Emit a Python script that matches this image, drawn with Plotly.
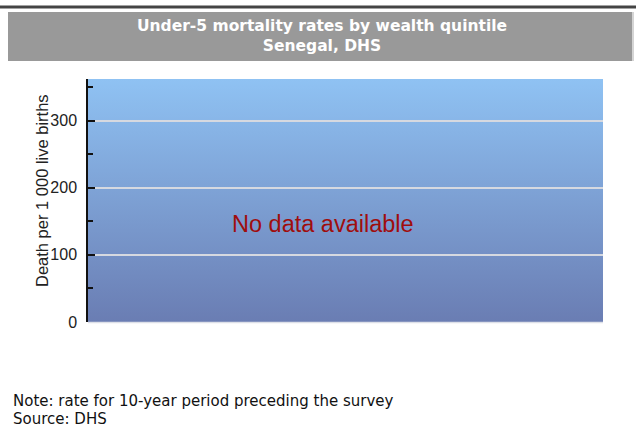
import base64
import plotly.graph_objects as go

# ---- data ----
quintiles = ["Lowest", "Second", "Middle", "Fourth", "Highest"]
rates = []  # no data available
y_tick_vals = [0, 100, 200, 300]
y_minor_vals = [50, 150, 250, 350]
y_range = [0, 362]

title_lines = ["Under-5 mortality rates by wealth quintile", "Senegal, DHS"]
y_title = "Death per 1 000 live births"
no_data_text = "No data available"
note_lines = ["Note: rate for 10-year period preceding the survey", "Source: DHS"]

W, H = 636, 428
L, R, T, B = 88, 603, 79, 322


def px(x):
    return (x - L) / (R - L)


def py(y):
    return (B - y) / (B - T)


svg = (
    '<svg xmlns="http://www.w3.org/2000/svg" width="100" height="100" preserveAspectRatio="none">'
    '<defs><linearGradient id="g" x1="0" y1="0" x2="0" y2="1">'
    '<stop offset="0" stop-color="#8fc2f3"/><stop offset="1" stop-color="#6a7db3"/>'
    '</linearGradient></defs><rect width="100" height="100" fill="url(#g)"/></svg>'
)
svg_uri = "data:image/svg+xml;base64," + base64.b64encode(svg.encode()).decode()

fig = go.Figure()
fig.add_trace(go.Bar(x=quintiles[:len(rates)], y=rates, showlegend=False))

fig.update_layout(
    width=W,
    height=H,
    margin=dict(l=L, r=W - R, t=T, b=H - B, pad=0),
    paper_bgcolor="white",
    plot_bgcolor="#7e9fd3",
    showlegend=False,
    font=dict(family="Liberation Sans, Arial, sans-serif", size=15, color="#222"),
    xaxis=dict(
        type="category",
        categoryarray=quintiles,
        range=[-0.5, 4.5],
        showticklabels=False,
        showgrid=False,
        zeroline=False,
        showline=False,
        ticks="",
        fixedrange=True,
    ),
    yaxis=dict(
        range=y_range,
        tickvals=y_tick_vals,
        ticktext=[str(v) for v in y_tick_vals],
        ticks="inside",
        ticklen=7,
        tickwidth=1.5,
        tickcolor="#111",
        showline=True,
        linecolor="#111",
        linewidth=1.5,
        showgrid=True,
        gridcolor="#d6d9e0",
        gridwidth=1.5,
        zeroline=False,
        ticklabelstandoff=6,
        tickfont=dict(family="Liberation Sans, Arial, sans-serif", size=16, color="#222"),
        minor=dict(tickvals=y_minor_vals, ticks="inside", ticklen=5, tickwidth=1.5,
                   tickcolor="#111", showgrid=False),
        fixedrange=True,
    ),
    images=[dict(source=svg_uri, xref="x domain", yref="y domain", x=0, y=1,
                 sizex=1, sizey=1, sizing="stretch", layer="below",
                 xanchor="left", yanchor="top")],
)

shapes = [
    # dark top rule
    dict(type="rect", xref="paper", yref="paper", x0=px(0), x1=px(636), y0=py(5.5), y1=py(8.5),
         fillcolor="#444444", line=dict(width=0), layer="above"),
    # title box
    dict(type="rect", xref="paper", yref="paper", x0=px(8), x1=px(632), y0=py(12), y1=py(61),
         fillcolor="#999999", line=dict(width=0), layer="above"),
    dict(type="line", xref="paper", yref="paper", x0=px(633), x1=px(633), y0=py(12), y1=py(61),
         line=dict(color="#d4d4d4", width=2), layer="above"),
    # light line along the bottom of the plot area
    dict(type="line", xref="paper", yref="paper", x0=0, x1=1, y0=py(322.5), y1=py(322.5),
         line=dict(color="#dde0e8", width=1.5), layer="above"),
]
fig.update_layout(shapes=shapes)

annotations = [
    dict(text="<b>" + title_lines[0] + "</b><br><b>" + title_lines[1] + "</b>",
         xref="paper", yref="paper", x=px(322), y=py(36.5), xanchor="center", yanchor="middle",
         showarrow=False, align="center",
         font=dict(family="DejaVu Sans, Verdana, sans-serif", size=15.5, color="white")),
    dict(text=y_title, xref="paper", yref="paper", x=px(42), y=py(191), textangle=-90,
         xanchor="center", yanchor="middle", showarrow=False,
         font=dict(family="Liberation Sans, Arial, sans-serif", size=16.5, color="#222")),
    dict(text=no_data_text, xref="paper", yref="paper", x=px(322.7), y=py(224),
         xanchor="center", yanchor="middle", showarrow=False,
         font=dict(family="Liberation Sans, Arial, sans-serif", size=23.5, color="#a00d0d")),
    dict(text=note_lines[0], xref="paper", yref="paper", x=px(11), y=py(401),
         xanchor="left", yanchor="middle", showarrow=False,
         font=dict(family="DejaVu Sans, Verdana, sans-serif", size=15, color="#111")),
    dict(text=note_lines[1], xref="paper", yref="paper", x=px(11), y=py(419),
         xanchor="left", yanchor="middle", showarrow=False,
         font=dict(family="DejaVu Sans, Verdana, sans-serif", size=15, color="#111")),
]
fig.update_layout(annotations=annotations)

fig.write_html(
    "out.html",
    config=dict(displayModeBar=False),
    post_script="document.body.style.margin='0';document.body.style.overflow='hidden';",
)
